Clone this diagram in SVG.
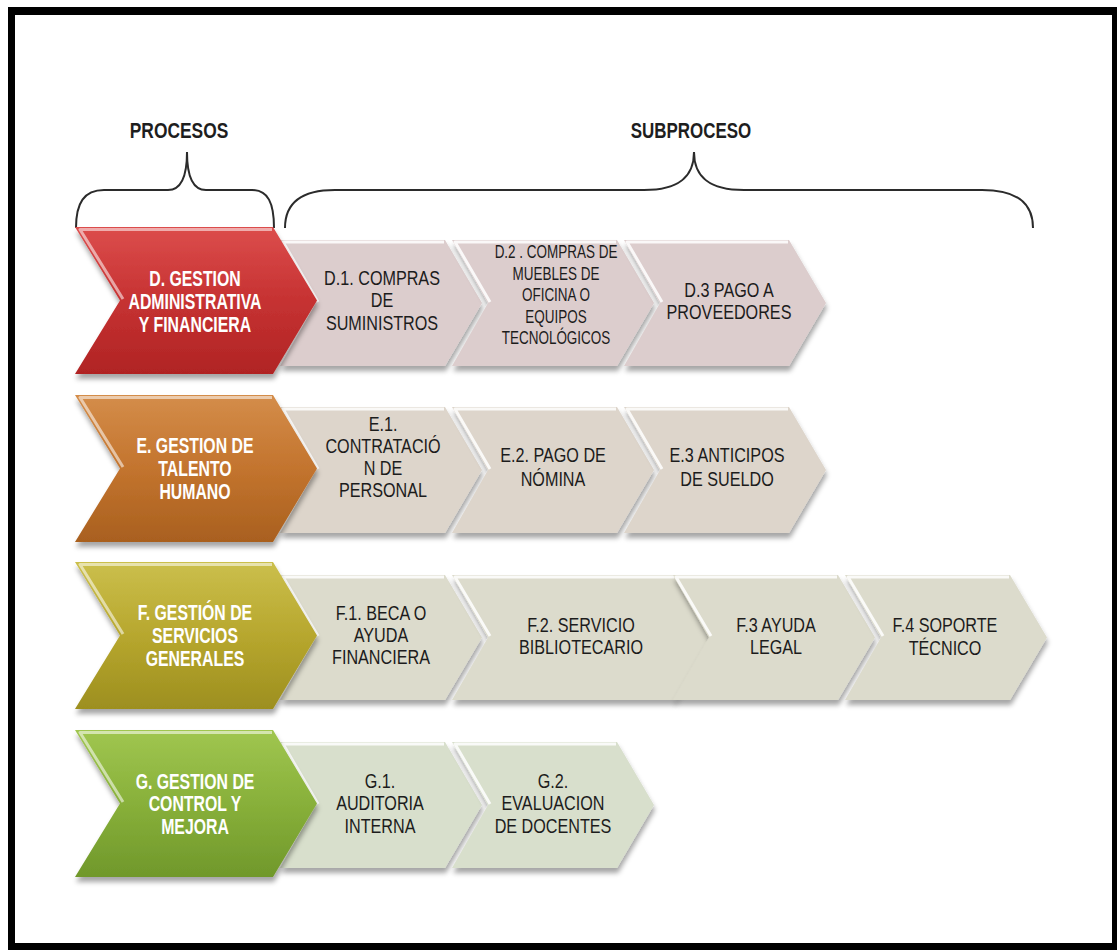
<svg xmlns="http://www.w3.org/2000/svg" width="1117" height="950" viewBox="0 0 1117 950">
<defs>
<style>
.brace{fill:none;stroke:#2b2b2b;stroke-width:2}
.hdr{font-family:"Liberation Sans",Arial,sans-serif;font-weight:bold;font-size:22px;fill:#1e1e1e;text-anchor:middle}
.mt{font-family:"Liberation Sans",Arial,sans-serif;font-weight:bold;font-size:22px;fill:#ffffff;text-anchor:middle}
.st{font-family:"Liberation Sans",Arial,sans-serif;font-size:21px;fill:#1c1c1c;text-anchor:middle}
.st2{font-family:"Liberation Sans",Arial,sans-serif;font-size:17.5px;fill:#1c1c1c;text-anchor:middle}
.hl{fill:none;stroke:#ffffff;stroke-opacity:.55;stroke-width:3;stroke-linejoin:round}
.hls{fill:none;stroke:#ffffff;stroke-opacity:.85;stroke-width:3;stroke-linejoin:round}
.sd{fill:#dccdcd}
.se{fill:#ddd5cb}
.sf{fill:#dcdbcc}
.sg{fill:#d8dfcc}
</style>
<filter id="sh" x="-10%" y="-10%" width="125%" height="130%">
<feDropShadow dx="1" dy="5" stdDeviation="2.5" flood-color="#000" flood-opacity="0.35"/>
</filter>
<linearGradient id="gR" x1="0" y1="0" x2="0" y2="1"><stop offset="0" stop-color="#dc4d4c"/><stop offset="0.5" stop-color="#c63232"/><stop offset="1" stop-color="#b02424"/></linearGradient>
<linearGradient id="gO" x1="0" y1="0" x2="0" y2="1"><stop offset="0" stop-color="#d48d4a"/><stop offset="0.5" stop-color="#c3742e"/><stop offset="1" stop-color="#a9601f"/></linearGradient>
<linearGradient id="gY" x1="0" y1="0" x2="0" y2="1"><stop offset="0" stop-color="#cbbf4c"/><stop offset="0.5" stop-color="#b7a72e"/><stop offset="1" stop-color="#9d8f1f"/></linearGradient>
<linearGradient id="gG" x1="0" y1="0" x2="0" y2="1"><stop offset="0" stop-color="#a0c650"/><stop offset="0.5" stop-color="#88b03a"/><stop offset="1" stop-color="#70982b"/></linearGradient>
</defs>
<rect x="0" y="0" width="1117" height="950" fill="#ffffff"/>
<g id="frame" fill="#000">
<rect x="8" y="7" width="1109" height="8"/>
<rect x="8" y="7" width="7" height="943"/>
<rect x="1112" y="7" width="5" height="943"/>
<rect x="8" y="943" width="1109" height="7"/>
</g>
<g id="headers">
<g transform="translate(179,0) scale(0.79,1)"><text class="hdr" x="0" y="138">PROCESOS</text></g>
<g transform="translate(691,0) scale(0.77,1)"><text class="hdr" x="0" y="138">SUBPROCESO</text></g>
</g>
<g id="connectors">
<path class="brace" d="M76,228 C76,203 84,190 104,190 L168,190 C182,190 187,176 187,152 C187,176 192,190 206,190 L252,190 C268,190 274,203 274,228"/>
<path class="brace" d="M285,228 C285,205 298,190 335,190 L644,190 C680,190 694,176 694,152 C694,176 708,190 744,190 L982,190 C1020,190 1033,205 1033,228"/>
</g>
<g id="row-D">
<g id="D1"><polygon class="sd" filter="url(#sh)" points="280,240 445,240 482,303 445,366 280,366 316,303"/><polyline class="hls" points="318,302 283,242 444,242"/>
<g transform="translate(382,0) scale(0.77,1)"><text class="st" x="0" y="285.5">D.1. COMPRAS</text><text class="st" x="0" y="307.5">DE</text><text class="st" x="0" y="330.5">SUMINISTROS</text></g></g>
<g id="D2"><polygon class="sd" filter="url(#sh)" points="452,240 617,240 654,303 617,366 452,366 488,303"/><polyline class="hls" points="490,302 455,242 616,242"/>
<g transform="translate(556,0) scale(0.77,1)"><text class="st2" x="0" y="258">D.2 . COMPRAS DE</text><text class="st2" x="0" y="280">MUEBLES DE</text><text class="st2" x="0" y="301">OFICINA O</text><text class="st2" x="0" y="323">EQUIPOS</text><text class="st2" x="0" y="344">TECNOLÓGICOS</text></g></g>
<g id="D3"><polygon class="sd" filter="url(#sh)" points="624,240 789,240 826,303 789,366 624,366 660,303"/><polyline class="hls" points="662,302 627,242 788,242"/>
<g transform="translate(729,0) scale(0.77,1)"><text class="st" x="0" y="297.5">D.3 PAGO A</text><text class="st" x="0" y="319.5">PROVEEDORES</text></g></g>
<g id="D"><polygon fill="url(#gR)" filter="url(#sh)" points="75,227 273,227 317,300.5 273,374 75,374 120,300.5"/><polyline class="hl" points="123,299 80,229.5 272,229.5"/>
<g transform="translate(195,0) scale(0.72,1)"><text class="mt" x="0" y="286">D. GESTION</text><text class="mt" x="0" y="309">ADMINISTRATIVA</text><text class="mt" x="0" y="332">Y FINANCIERA</text></g></g>
</g>
<g id="row-E">
<g id="E1"><polygon class="se" filter="url(#sh)" points="280,407 445,407 482,470 445,533 280,533 316,470"/><polyline class="hls" points="318,469 283,409 444,409"/>
<g transform="translate(383,0) scale(0.77,1)"><text class="st" x="0" y="431.5">E.1.</text><text class="st" x="0" y="453.5">CONTRATACIÓ</text><text class="st" x="0" y="475.5">N DE</text><text class="st" x="0" y="497.5">PERSONAL</text></g></g>
<g id="E2"><polygon class="se" filter="url(#sh)" points="452,407 617,407 654,470 617,533 452,533 488,470"/><polyline class="hls" points="490,469 455,409 616,409"/>
<g transform="translate(553,0) scale(0.77,1)"><text class="st" x="0" y="462">E.2. PAGO DE</text><text class="st" x="0" y="486">NÓMINA</text></g></g>
<g id="E3"><polygon class="se" filter="url(#sh)" points="624,407 789,407 826,470 789,533 624,533 660,470"/><polyline class="hls" points="662,469 627,409 788,409"/>
<g transform="translate(727,0) scale(0.77,1)"><text class="st" x="0" y="462">E.3 ANTICIPOS</text><text class="st" x="0" y="486">DE SUELDO</text></g></g>
<g id="E"><polygon fill="url(#gO)" filter="url(#sh)" points="75,395 273,395 317,468.5 273,542 75,542 120,468.5"/><polyline class="hl" points="123,467 80,397.5 272,397.5"/>
<g transform="translate(195,0) scale(0.72,1)"><text class="mt" x="0" y="453">E. GESTION DE</text><text class="mt" x="0" y="476">TALENTO</text><text class="mt" x="0" y="499">HUMANO</text></g></g>
</g>
<g id="row-F">
<g id="F1"><polygon class="sf" filter="url(#sh)" points="280,575 445,575 482,637.5 445,700 280,700 316,637.5"/><polyline class="hls" points="318,636 283,577 444,577"/>
<g transform="translate(381,0) scale(0.77,1)"><text class="st" x="0" y="620.5">F.1. BECA O</text><text class="st" x="0" y="642.5">AYUDA</text><text class="st" x="0" y="664.5">FINANCIERA</text></g></g>
<g id="F2"><polygon class="sf" filter="url(#sh)" points="452,575 675,575 712,637.5 675,700 452,700 488,637.5"/><polyline class="hls" points="490,636 455,577 674,577"/>
<g transform="translate(581,0) scale(0.77,1)"><text class="st" x="0" y="632.5">F.2. SERVICIO</text><text class="st" x="0" y="654.5">BIBLIOTECARIO</text></g></g>
<g id="F3"><polygon class="sf" filter="url(#sh)" points="673,575 838,575 875,637.5 838,700 673,700 709,637.5"/><polyline class="hls" points="711,636 676,577 837,577"/>
<g transform="translate(776,0) scale(0.77,1)"><text class="st" x="0" y="632.5">F.3 AYUDA</text><text class="st" x="0" y="654.5">LEGAL</text></g></g>
<g id="F4"><polygon class="sf" filter="url(#sh)" points="845,575 1010,575 1047,637.5 1010,700 845,700 881,637.5"/><polyline class="hls" points="883,636 848,577 1009,577"/>
<g transform="translate(945,0) scale(0.77,1)"><text class="st" x="0" y="632.5">F.4 SOPORTE</text><text class="st" x="0" y="655.5">TÉCNICO</text></g></g>
<g id="F"><polygon fill="url(#gY)" filter="url(#sh)" points="75,562 273,562 317,635.5 273,709 75,709 120,635.5"/><polyline class="hl" points="123,634 80,564.5 272,564.5"/>
<g transform="translate(195,0) scale(0.72,1)"><text class="mt" x="0" y="620">F. GESTIÓN DE</text><text class="mt" x="0" y="643">SERVICIOS</text><text class="mt" x="0" y="666">GENERALES</text></g></g>
</g>
<g id="row-G">
<g id="G1"><polygon class="sg" filter="url(#sh)" points="280,742 445,742 482,805 445,868 280,868 316,805"/><polyline class="hls" points="318,804 283,744 444,744"/>
<g transform="translate(380,0) scale(0.77,1)"><text class="st" x="0" y="788.5">G.1.</text><text class="st" x="0" y="810.5">AUDITORIA</text><text class="st" x="0" y="833.5">INTERNA</text></g></g>
<g id="G2"><polygon class="sg" filter="url(#sh)" points="452,742 617,742 654,805 617,868 452,868 488,805"/><polyline class="hls" points="490,804 455,744 616,744"/>
<g transform="translate(553,0) scale(0.77,1)"><text class="st" x="0" y="788.5">G.2.</text><text class="st" x="0" y="810.5">EVALUACION</text><text class="st" x="0" y="833.5">DE DOCENTES</text></g></g>
<g id="G"><polygon fill="url(#gG)" filter="url(#sh)" points="75,730 273,730 317,803.5 273,877 75,877 120,803.5"/><polyline class="hl" points="123,802 80,732.5 272,732.5"/>
<g transform="translate(195,0) scale(0.72,1)"><text class="mt" x="0" y="789">G. GESTION DE</text><text class="mt" x="0" y="811">CONTROL Y</text><text class="mt" x="0" y="834">MEJORA</text></g></g>
</g>
</svg>
